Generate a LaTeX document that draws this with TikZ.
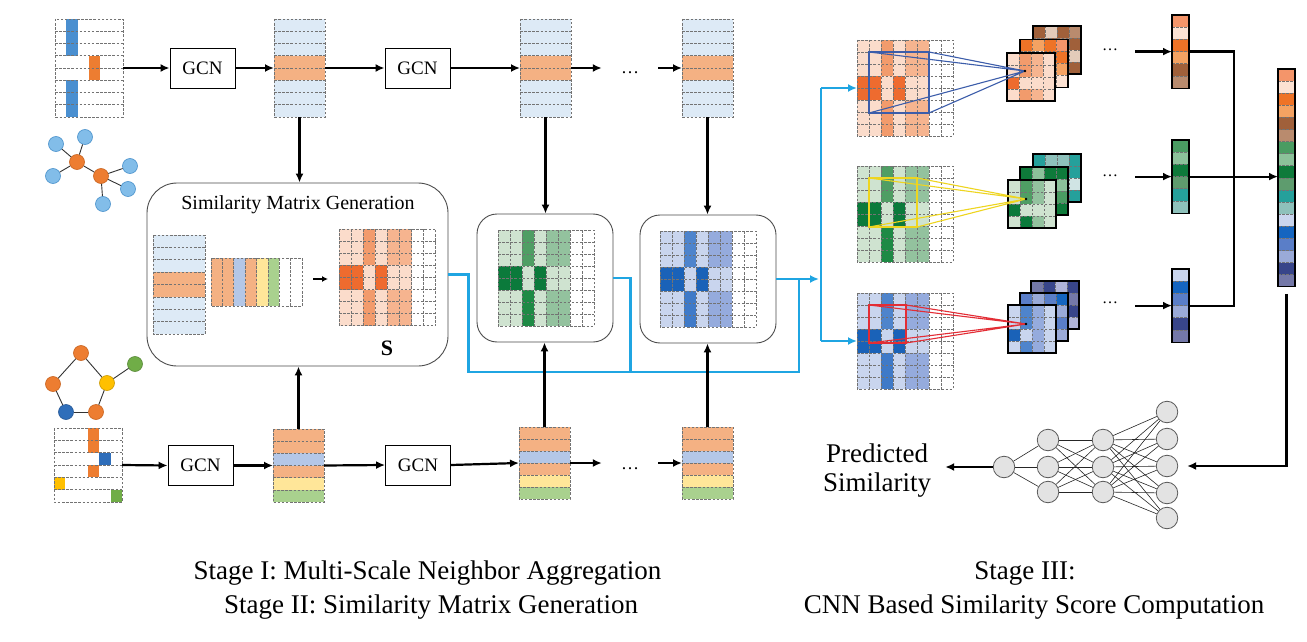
\documentclass[tikz,border=0pt]{standalone}
\usepackage{fontspec}
\setmainfont{Liberation Serif}
\usetikzlibrary{arrows.meta,calc}
\definecolor{lb}{HTML}{DDEAF6}
\definecolor{ob}{HTML}{F4B183}
\definecolor{bb}{HTML}{B4C7E7}
\definecolor{yb}{HTML}{FFE699}
\definecolor{gb}{HTML}{A9D18E}
\definecolor{cyanl}{HTML}{1FA5E2}
\definecolor{nblue}{HTML}{82BDE9}
\definecolor{nblueb}{HTML}{4A92CC}
\definecolor{norange}{HTML}{ED7D31}
\definecolor{noranb}{HTML}{C9641F}
\definecolor{nyellow}{HTML}{FFC000}
\definecolor{ngreen}{HTML}{70AD47}
\definecolor{ndblue}{HTML}{2F6EBA}
\definecolor{barblue}{HTML}{4A8FD0}
\definecolor{nngray}{HTML}{E3E3E3}
\definecolor{kblue}{HTML}{3C5DAA}
\definecolor{kyel}{HTML}{EED51F}
\definecolor{kred}{HTML}{E32D35}
% similarity matrix palettes
\definecolor{oL}{HTML}{FBDCCB}\definecolor{oM}{HTML}{F29B6C}\definecolor{oN}{HTML}{F29B6C}\definecolor{oP}{HTML}{F6B48F}\definecolor{oD}{HTML}{EE6B2F}
\definecolor{gL}{HTML}{CFE3D0}\definecolor{gM}{HTML}{4F9E64}\definecolor{gN}{HTML}{1E8A45}\definecolor{gP}{HTML}{93C29E}\definecolor{gD}{HTML}{0B7A3B}
\definecolor{uL}{HTML}{C9D5EE}\definecolor{uM}{HTML}{4E84CC}\definecolor{uN}{HTML}{3F7AC8}\definecolor{uP}{HTML}{95ABDD}\definecolor{uD}{HTML}{1A62B8}
% vector colours
\definecolor{vt1}{HTML}{F4956A}\definecolor{vt2}{HTML}{FCE2D3}\definecolor{vt3}{HTML}{EE7327}\definecolor{vt4}{HTML}{F4A262}\definecolor{vt5}{HTML}{A0603A}\definecolor{vt6}{HTML}{B98B6E}
\definecolor{vm1}{HTML}{4A9C62}\definecolor{vm2}{HTML}{8CC29A}\definecolor{vm3}{HTML}{0E7A3A}\definecolor{vm4}{HTML}{5E9C6E}\definecolor{vm5}{HTML}{25A09B}\definecolor{vm6}{HTML}{8EC1BB}
\definecolor{vb1}{HTML}{C9D5EE}\definecolor{vb2}{HTML}{1565C0}\definecolor{vb3}{HTML}{5A7EC8}\definecolor{vb4}{HTML}{9AAAD8}\definecolor{vb5}{HTML}{38458A}\definecolor{vb6}{HTML}{7478A8}
\definecolor{brl}{HTML}{E3CBBA}\definecolor{tel}{HTML}{D0E4E4}\definecolor{nvl}{HTML}{B0B4D8}

\tikzset{
 bbx/.style={inner sep=0pt, outer sep=0pt, anchor=north west},
 dl/.style={draw=black!55, dash pattern=on 2.5pt off 1.6pt, line width=0.8pt},
 arr/.style={line width=2.2pt, -{Latex[length=9pt,width=8pt]}},
 ln/.style={line width=2.2pt},
 cy/.style={draw=cyanl, line width=2.4pt},
 cya/.style={cy, -{Latex[length=9pt,width=8pt]}},
 gcn/.style={draw, line width=0.9pt, minimum width=65pt, minimum height=40pt, inner sep=0pt, font=\fontsize{19}{22}\selectfont},
 rbox/.style={draw=black!70, line width=0.9pt, inner sep=0pt},
 gn/.style={circle, minimum size=15pt, inner sep=0pt, line width=0.6pt},
 gnb/.style={gn, fill=nblue, draw=nblueb},
 gno/.style={gn, fill=norange, draw=noranb},
 gny/.style={gn, fill=nyellow, draw=nyellow!80!black},
 gng/.style={gn, fill=ngreen, draw=ngreen!80!black},
 gnd/.style={gn, fill=ndblue, draw=ndblue!80!black},
 gedge/.style={draw=black!80, line width=0.9pt},
 nn/.style={circle, draw=black!65, fill=nngray, minimum size=21.5pt, inner sep=0pt, line width=0.8pt},
 nnedge/.style={draw=black!85, line width=0.6pt},
 captext/.style={font=\fontsize{27}{32}\selectfont, inner sep=0pt},
 dotn/.style={inner sep=0pt, minimum width=56pt, font=\fontsize{18}{20}\selectfont},
 dotr/.style={inner sep=0pt, minimum width=50pt, font=\fontsize{16}{18}\selectfont},
}

% 8x8 similarity matrix: x y cell palette
\newcommand\simmat[4]{%
 \foreach \r in {0,1,2}{\foreach \c/\cc in {0/#4L,1/#4L,2/#4M,3/#4L,4/#4P,5/#4P}{\fill[\cc] ({#1+\c*#3},{#2+\r*#3}) rectangle ++(#3,#3);}}
 \foreach \r in {3,4}{\foreach \c/\cc in {0/#4D,1/#4D,2/#4L,3/#4D,4/#4L,5/#4L}{\fill[\cc] ({#1+\c*#3},{#2+\r*#3}) rectangle ++(#3,#3);}}
 \foreach \r in {5,6,7}{\foreach \c/\cc in {0/#4L,1/#4L,2/#4N,3/#4L,4/#4P,5/#4P}{\fill[\cc] ({#1+\c*#3},{#2+\r*#3}) rectangle ++(#3,#3);}}
 \foreach \i in {1,...,7}{\draw[dl] ({#1+\i*#3},#2) -- ++(0,{8*#3}); \draw[dl] (#1,{#2+\i*#3}) -- ++({8*#3},0);}
 \draw[dl] (#1,#2) rectangle ++({8*#3},{8*#3});
}
% vertical feature column: x y w rowh n colours
\newcommand\fcol[6]{%
 \foreach \cc [count=\i from 0] in {#6}{\fill[\cc] (#1,{#2+\i*#4}) rectangle ++(#3,#4);}
 \foreach \cc [count=\i from 0] in {#6}{\ifnum\i>0 \draw[dl] (#1,{#2+\i*#4}) -- ++(#3,0);\fi}
 \draw[dl] (#1,#2) rectangle ++(#3,{#5*#4});
}
% horizontal feature row: x y colw h n colours
\newcommand\frow[6]{%
 \foreach \cc [count=\i from 0] in {#6}{\fill[\cc] ({#1+\i*#3},#2) rectangle ++(#3,#4);}
 \foreach \cc [count=\i from 0] in {#6}{\ifnum\i>0 \draw[dl] ({#1+\i*#3},#2) -- ++(0,#4);\fi}
 \draw[dl] (#1,#2) rectangle ++({#5*#3},#4);
}
% output vector with solid border
\newcommand\ovec[6]{%
 \foreach \cc [count=\i from 0] in {#6}{\fill[\cc] (#1,{#2+\i*#4}) rectangle ++(#3,#4);}
 \foreach \cc [count=\i from 0] in {#6}{\ifnum\i>0 \draw[dl] (#1,{#2+\i*#4}) -- ++(#3,0);\fi}
 \draw[line width=1.1pt] (#1,#2) rectangle ++(#3,{#5*#4});
}
% 4x4 feature map
\newcommand\fmap[6]{%
 \foreach \rl [count=\r from 0] in {{#3},{#4},{#5},{#6}}{%
   \foreach \cc [count=\c from 0] in \rl {\fill[\cc] ({#1+\c*12},{#2+\r*12}) rectangle ++(12,12);}}
 \foreach \i in {1,2,3}{\draw[dl] ({#1+\i*12},#2) -- ++(0,48); \draw[dl] (#1,{#2+\i*12}) -- ++(48,0);}
 \draw[line width=1.1pt] (#1,#2) rectangle ++(48,48);
}

\begin{document}
\begin{tikzpicture}[x=1pt,y=-1pt]
\useasboundingbox (0,0) rectangle (1307,642);
\fill[white] (0,0) rectangle (1307,642);

%================ Top branch ================
\node[bbx, minimum width=68pt, minimum height=98pt] (in1) at (55,19) {};
\fill[barblue] (66.3,19) rectangle (77.7,55.75);
\fill[barblue] (66.3,80.25) rectangle (77.7,117);
\fill[norange] (89,55.75) rectangle (100.3,80.25);
\foreach \i in {1,...,7}{\draw[dl] (55,{19+\i*12.25}) -- ++(68,0);}
\draw[dl] (55,19) rectangle (123,117);

\node[gno] (o1) at (77,162) {};
\node[gno] (o2) at (101,176) {};
\node[gnb] (a1) at (56,144) {};
\node[gnb] (a2) at (85,137) {};
\node[gnb] (a3) at (53,176) {};
\node[gnb] (a4) at (130,166) {};
\node[gnb] (a5) at (128,189) {};
\node[gnb] (a6) at (103,204) {};
\foreach \u/\v in {o1/a1,o1/a2,o1/a3,o1/o2,o2/a4,o2/a5,o2/a6}{\draw[gedge] (\u) -- (\v);}

\node[gcn] (gcn1) at (202.5,68) {GCN};
\node[bbx, minimum width=51pt, minimum height=98pt] (c1) at (274,19) {};
\fcol{274}{19}{51}{12.25}{8}{lb,lb,lb,ob,ob,lb,lb,lb}
\node[gcn] (gcn2) at (417.5,68) {GCN};
\node[bbx, minimum width=51pt, minimum height=98pt] (c2) at (520,19) {};
\fcol{520}{19}{51}{12.25}{8}{lb,lb,lb,ob,ob,lb,lb,lb}
\node[dotn] (dots1) at (630,73) {\ldots};
\node[bbx, minimum width=51pt, minimum height=98pt] (c3) at (682,19) {};
\fcol{682}{19}{51}{12.25}{8}{lb,lb,lb,ob,ob,lb,lb,lb}

\draw[arr] (in1.east) -- (gcn1.west);
\draw[arr] (gcn1.east) -- (c1.west);
\draw[arr] (c1.east) -- (gcn2.west);
\draw[arr] (gcn2.east) -- (c2.west);
\draw[arr] (c2.east) -- (c2.east -| dots1.west);
\draw[arr] (dots1.east |- c3.west) -- (c3.west);

%================ Bottom branch ================
\node[gno] (p1) at (81,353) {};
\node[gno] (p2) at (53,384) {};
\node[gny] (p3) at (107,383) {};
\node[gng] (p4) at (135,364) {};
\node[gnd] (p5) at (66,412) {};
\node[gno] (p6) at (96,412) {};
\foreach \u/\v in {p1/p2,p1/p3,p3/p4,p2/p5,p5/p6,p6/p3}{\draw[gedge] (\u) -- (\v);}

\node[bbx, minimum width=68pt, minimum height=74pt] (in2) at (54,428) {};
\fill[norange] (88,428) rectangle (99.3,452.7);
\fill[ndblue] (99.3,452.7) rectangle (110.7,465);
\fill[norange] (88,465) rectangle (99.3,477.3);
\fill[nyellow] (54,477.3) rectangle (65.3,489.7);
\fill[ngreen] (110.7,489.7) rectangle (122,502);
\foreach \i in {1,...,5}{\draw[dl] (54,{428+\i*12.33}) -- ++(68,0);}
\draw[dl] (54,428) rectangle (122,502);

\node[gcn] (gcn3) at (200.5,465.5) {GCN};
\node[bbx, minimum width=51pt, minimum height=73pt] (c4) at (273,429) {};
\fcol{273}{429}{51}{12.2}{6}{ob,ob,bb,ob,yb,gb}
\node[gcn] (gcn4) at (418,465) {GCN};
\node[bbx, minimum width=51pt, minimum height=72pt] (c5) at (519,427) {};
\fcol{519}{427}{51}{12}{6}{ob,ob,bb,ob,yb,gb}
\node[dotn] (dots2) at (630,469) {\ldots};
\node[bbx, minimum width=51pt, minimum height=72pt] (c6) at (682,427) {};
\fcol{682}{427}{51}{12}{6}{ob,ob,bb,ob,yb,gb}

\draw[arr] (in2.east) -- (gcn3.west);
\draw[arr] (gcn3.east) -- (c4.west);
\draw[arr] (c4.east) -- (gcn4.west);
\draw[arr] (gcn4.east) -- (c5.west);
\draw[arr] (c5.east) -- (c5.east -| dots2.west);
\draw[arr] (dots2.east |- c6.west) -- (c6.west);

%================ Similarity matrix generation ================
\node[rbox, rounded corners=30pt, minimum width=301pt, minimum height=183pt] (smg) at (297.5,274.5) {};
\node[font=\fontsize{20}{24}\selectfont] (smgt) at (298,205) {Similarity Matrix Generation};
\node[bbx, minimum width=52pt, minimum height=99pt] (scol) at (153,235) {};
\fcol{153}{235}{52}{12.4}{8}{lb,lb,lb,ob,ob,lb,lb,lb}
\node[bbx, minimum width=91pt, minimum height=48pt] (rv) at (211,258) {};
\frow{211}{258}{11.4}{48}{8}{ob,ob,bb,ob,yb,gb,white,white}
\coordinate (sa1) at (313,279);
\coordinate (sa2) at (328,279);
\draw[line width=2pt, -{Latex[length=6pt,width=6pt]}] (sa1) -- (sa2);
\node[bbx, minimum width=97pt, minimum height=97pt] (S) at (339,229) {};
\simmat{339}{229}{12.1}{o}
\node[font=\bfseries\fontsize{22}{24}\selectfont] (slab) at (387,348) {S};

\node[rbox, rounded corners=20pt, minimum width=136pt, minimum height=128pt] (gbox) at (545,278) {};
\node[bbx, minimum width=96pt, minimum height=96pt] (G) at (498,230) {};
\simmat{498}{230}{12}{g}
\node[rbox, rounded corners=20pt, minimum width=136pt, minimum height=128pt] (bbox) at (708,279) {};
\node[bbx, minimum width=96pt, minimum height=96pt] (B) at (660,231) {};
\simmat{660}{231}{12}{u}

%================ Right matrices ================
\node[bbx, minimum width=96pt, minimum height=96pt] (mt) at (857,40) {};
\simmat{857}{40}{12}{o}
\node[bbx, minimum width=96pt, minimum height=96pt] (mm) at (857,166) {};
\simmat{857}{166}{12}{g}
\node[bbx, minimum width=96pt, minimum height=96pt] (mb) at (857,293) {};
\simmat{857}{293}{12}{u}

% cyan connectors
\coordinate (busy) at (0,372);
\coordinate (j1) at (799,279);
\coordinate (vx) at (821,0);
\draw[cy] (smg.east) -- ++(20,0) coordinate (ca) -- (ca |- busy) -| (j1);
\draw[cy] (gbox.east) -- ++(17,0) coordinate (cb) -- (cb |- busy);
\draw[cya, shorten >=2pt] (bbox.east) -- (bbox.east -| vx);
\draw[cy] (vx |- mt.west) -- (vx |- mb.west);
\draw[cya] (vx |- mt.west) -- (mt.west);
\draw[cya] (vx |- mb.west) -- (mb.west);

% vertical black arrows
\draw[arr] (c1.south) -- (c1.south |- smg.north);
\draw[arr] (c2.south) -- (c2.south |- gbox.north);
\draw[arr] (c3.south) -- (c3.south |- bbox.north);
\draw[arr] (c4.north) -- (c4.north |- smg.south);
\draw[arr] (c5.north) -- (c5.north |- gbox.south);
\draw[arr] (c6.north) -- (c6.north |- bbox.south);

%================ CNN feature maps ================
\fmap{1033}{26}{vt5,brl,vt5,vt6}{vt6,vt5,vt6,vt5}{vt5,vt6,vt5,brl}{vt6,vt5,vt6,vt5}
\fmap{1020}{39.5}{vt3,vt4,vt3,vt1}{vt4,vt2,vt3,vt3}{vt3,vt4,vt1,vt4}{vt4,vt3,vt4,vt2}
\fmap{1007}{53}{oL,oM,oP,oL}{oL,oM,oP,oL}{oD,oL,oL,oL}{oL,oM,oP,oL}

\fmap{1033}{154}{vm5,vm6,vm6,vm5}{vm6,vm5,vm5,vm5}{vm5,vm6,vm5,tel}{vm6,vm5,vm6,vm5}
\fmap{1020}{167}{vm3,vm2,vm3,vm3}{vm2,vm1,vm3,vm2}{vm1,vm2,vm1,vm1}{vm3,vm2,vm3,vm3}
\fmap{1008}{180}{gL,gM,gP,gL}{gL,gM,gP,gL}{gD,gL,gL,gL}{gL,gD,gP,gL}

\fmap{1031}{281}{vb6,vb5,nvl,vb5}{vb5,vb6,vb5,vb6}{vb6,vb5,vb6,vb5}{vb5,vb6,vb5,nvl}
\fmap{1020}{293}{vb3,vb4,vb3,vb2}{vb4,vb3,vb4,vb4}{vb3,vb4,vb3,vb3}{vb4,vb3,vb4,vb4}
\fmap{1008}{305}{uL,uM,uP,uL}{uL,uM,uP,uL}{uD,uL,uP,uL}{uL,uM,uP,uL}

% kernels and projections
\node[bbx, draw=kblue, line width=1.4pt, minimum width=60pt, minimum height=61pt] (kr1) at (869,52) {};
\coordinate (pt1) at (1025,71);
\draw[kblue, line width=1.1pt] (kr1.north west) -- (pt1) (kr1.north east) -- (pt1) (kr1.south west) -- (pt1) (kr1.south east) -- (pt1);
\fill (pt1) circle (1.4);
\node[bbx, draw=kyel, line width=1.4pt, minimum width=48pt, minimum height=49pt] (kr2) at (869,178) {};
\coordinate (pt2) at (1026,199);
\draw[kyel, line width=1.1pt] (kr2.north west) -- (pt2) (kr2.north east) -- (pt2) (kr2.south west) -- (pt2) (kr2.south east) -- (pt2);
\fill (pt2) circle (1.4);
\node[bbx, draw=kred, line width=1.4pt, minimum width=37pt, minimum height=38pt] (kr3) at (869,305) {};
\coordinate (pt3) at (1026,324);
\draw[kred, line width=1.1pt] (kr3.north west) -- (pt3) (kr3.north east) -- (pt3) (kr3.south west) -- (pt3) (kr3.south east) -- (pt3);
\fill (pt3) circle (1.4);

% dots and vectors
\node[dotr] (d1) at (1110,50) {\ldots};
\node[dotr] (d2) at (1110,176) {\ldots};
\node[dotr] (d3) at (1110,303) {\ldots};
\node[bbx, minimum width=17pt, minimum height=73.2pt] (vt) at (1172,15) {};
\ovec{1172}{15}{17}{12.2}{6}{vt1,vt2,vt3,vt4,vt5,vt6}
\node[bbx, minimum width=17pt, minimum height=73.2pt] (vm) at (1172,140) {};
\ovec{1172}{140}{17}{12.2}{6}{vm1,vm2,vm3,vm4,vm5,vm6}
\node[bbx, minimum width=17pt, minimum height=73.2pt] (vb) at (1172,269) {};
\ovec{1172}{269}{17}{12.2}{6}{vb1,vb2,vb3,vb4,vb5,vb6}
\node[bbx, minimum width=17pt, minimum height=217.8pt] (vc) at (1278,69) {};
\ovec{1278}{69}{17}{12.1}{18}{vt1,vt2,vt3,vt4,vt5,vt6,vm1,vm2,vm3,vm4,vm5,vm6,vb1,vb2,vb3,vb4,vb5,vb6}

\draw[arr] (d1.east |- vt.west) -- (vt.west);
\draw[arr] (d2.east |- vm.west) -- (vm.west);
\draw[arr] (d3.east |- vb.west) -- (vb.west);
\coordinate (xbr) at (1234,200);
\draw[ln] (vt.east) -| (xbr) |- (vb.east);
\draw[arr] (vm.east) -- (vm.east -| vc.west);

%================ Neural network ================
\node[nn] (nout) at (1004,467) {};
\foreach \y [count=\i] in {440,467,492}{\node[nn] (h\i) at (1048,\y) {}; \node[nn] (g\i) at (1103,\y) {};}
\foreach \y [count=\i] in {412,439,466,493,518}{\node[nn] (q\i) at (1167,\y) {};}
\foreach \i in {1,2,3}{%
  \draw[nnedge] (nout) -- (h\i);
  \foreach \j in {1,2,3}{\draw[nnedge] (h\i) -- (g\j);}
  \foreach \j in {1,...,5}{\draw[nnedge] (g\i) -- (q\j);}}
\draw[arr, shorten >=9pt] ([yshift=-7pt]vc.south) |- (q3);
\node[align=center, font=\fontsize{27}{29}\selectfont, inner ysep=0pt, inner xsep=14pt] (pred) at (877,471) {Predicted\\Similarity};
\draw[arr] (nout) -- (nout -| pred.east);

%================ Captions ================
\node[captext] (cap1) at (427.5,573) {Stage I: Multi-Scale Neighbor Aggregation};
\node[captext] (cap2) at (431,607) {Stage II: Similarity Matrix Generation};
\node[captext] (cap3) at (1025,573) {Stage III:};
\node[captext] (cap4) at (1034,607) {CNN Based Similarity Score Computation};
\end{tikzpicture}
\end{document}
